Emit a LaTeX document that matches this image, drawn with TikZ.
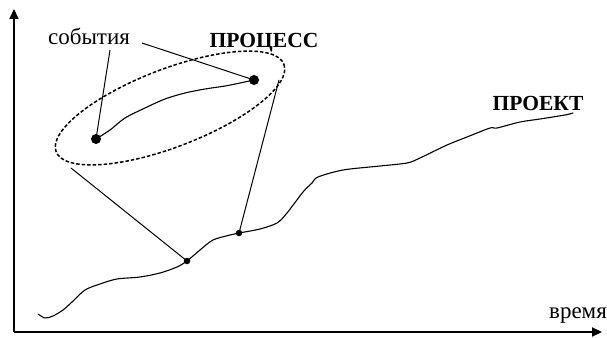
\documentclass[tikz,border=0pt]{standalone}
\usepackage{fontspec}
\setmainfont{Liberation Serif}
\usetikzlibrary{arrows.meta}
\begin{document}
\begin{tikzpicture}[x=1pt,y=-1pt,
  axis/.style={line width=2.2pt,-{Triangle[length=10pt,width=9pt]}},
  curve/.style={line width=1.1pt,line join=round,line cap=round},
  conn/.style={line width=1pt},
  bigdot/.style={circle,fill=black,inner sep=0pt,minimum size=10pt},
  smalldot/.style={circle,fill=black,inner sep=0pt,minimum size=6.5pt},
  lbl/.style={font=\fontsize{23}{25}\selectfont,inner sep=0pt},
  blbl/.style={font=\fontsize{21.5}{24}\selectfont\bfseries,inner sep=0pt}]
\useasboundingbox (0,0) rectangle (607,337);
% axes
\coordinate (O) at (14,332);
\coordinate (Ytop) at (14,9);
\coordinate (Xend) at (602,332);
\draw[axis] (O) -- (Ytop);
\draw[axis] (O) -- (Xend);
% texts
\node[lbl] (time) at (578,316) {время};
\node[lbl] (ev) at (89,36) {события};
\node[blbl] (proc) at (264,43) {ПРОЦЕСС};
\node[blbl] (proj) at (538,103) {ПРОЕКТ};
% project curve
\draw[curve] plot[smooth,tension=0.5] coordinates {
 (38,314) (45,318) (53,316) (63,310) (72,302) (85,290) (100,284) (117,279)
 (140,277) (160,273) (177,267) (187,261) (200,250) (213,240) (230,235)
 (239,233) (260,229) (277,223) (287,213) (303,192) (312,183) (318,177)
 (343,170) (380,166) (407,163) (420,158) (447,145) (467,137) (490,128)
 (497,128) (520,122) (540,119) (565,115) (573,113)};
% process curve
\draw[curve] plot[smooth,tension=0.5] coordinates {
 (96,139) (110,130) (125,118) (145,108) (165,99) (185,93) (205,89) (225,86) (240,83) (254,80)};
% dots
\node[bigdot] (e1) at (96,139) {};
\node[bigdot] (e2) at (254,80) {};
\node[smalldot] (p1) at (187,261) {};
\node[smalldot] (p2) at (239,233) {};
% ellipse
\draw[line width=1.5pt,dash pattern=on 3.5pt off 2pt,rotate around={21:(170,108)}]
  (170,108) ellipse [x radius=122, y radius=39];
\coordinate (elL) at (71,168);
\coordinate (elR) at (279,80);
% connectors
\coordinate (ev1) at (110,50);
\coordinate (ev2) at (142,43);
\draw[conn] (ev1) -- (e1.center);
\draw[conn] (ev2) -- (e2.center);
\draw[conn] (elL) -- (p1.center);
\draw[conn] (elR) -- (p2.center);
\end{tikzpicture}
\end{document}
